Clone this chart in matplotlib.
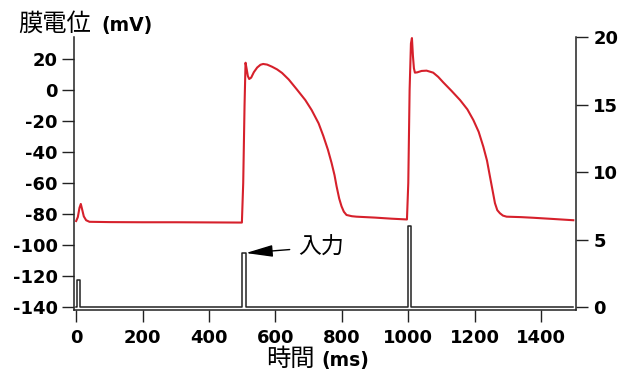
import numpy as np
import matplotlib
matplotlib.use("Agg")
import matplotlib.pyplot as plt

# Membrane potential trace (ms, mV)
time_ms = [0, 5, 10, 14, 18, 23, 30, 40, 100, 200, 300, 400, 499,
           503, 507, 510, 513, 517, 521, 527, 535, 545, 555, 563, 575, 590,
           605, 620, 640, 664, 690, 709, 730, 744, 758, 769, 778, 784, 792, 799,
           806, 814, 830, 844, 900, 950, 996,
           1000, 1004, 1008, 1011, 1014, 1017, 1020, 1027, 1040, 1055, 1075,
           1090, 1105, 1130, 1156, 1178, 1196, 1212, 1226, 1237, 1246, 1254, 1261,
           1268, 1276, 1285, 1296, 1340, 1376, 1430, 1497]
potential_mv = [-84.5, -82, -76, -73.5, -77, -81.5, -84, -85, -85.2, -85.3, -85.3, -85.4, -85.5,
                -60, -10, 17.6, 14, 9, 7.1, 8, 11.5, 14.5, 16.3, 16.8, 16.4, 15,
                13.3, 11, 6.8, 0.5, -6.5, -12.9, -21.5, -29.5, -38.5, -47, -55, -62, -70, -75,
                -78.5, -80.6, -81.4, -81.7, -82.3, -83, -83.5,
                -60, 0, 30, 33.5, 22, 14, 11.2, 11.4, 12.3, 12.5, 11.2,
                8.5, 5, -0.5, -6.5, -12.5, -19.4, -27, -36.6, -45.5, -55.9, -65, -73,
                -77.5, -79.5, -81, -81.7, -82, -82.4, -83.1, -84]

# Stimulus pulses: onset (ms), duration (ms), amplitude
pulse_onsets = [2, 500, 998]
pulse_durations = [10, 10, 10]
pulse_amplitudes = [2, 4, 6]
stim_end = 1497

left_ticks = [20, 0, -20, -40, -60, -80, -100, -120, -140]
right_ticks = [0, 5, 10, 15, 20]
x_ticks = [0, 200, 400, 600, 800, 1000, 1200, 1400]

# Build the stimulus step trace from the pulse table
stim_t, stim_v = [0], [0]
for on, dur, amp in zip(pulse_onsets, pulse_durations, pulse_amplitudes):
    stim_t += [on, on, on + dur, on + dur]
    stim_v += [0, amp, amp, 0]
stim_t.append(stim_end)
stim_v.append(0)

W, H = 634, 373
fig = plt.figure(figsize=(W / 100, H / 100), dpi=100)
ax = fig.add_axes([73.5 / W, 1 - 310 / H, (576 - 73.5) / W, (310 - 37) / H])
ax2 = ax.twinx()

red = "#d6202b"
ink = "#222222"
tick_font = dict(family="DejaVu Sans", weight="bold", size=13)

ax.plot(time_ms, potential_mv, color=red, lw=1.5, zorder=3, solid_joinstyle="round")
ax2.plot(stim_t, stim_v, color=ink, lw=1.1, zorder=3)

ax.set_xlim(-8, 1505)
ax.set_ylim(-141.9, 34.2)
ax2.set_ylim(-0.22, 20.0)

for a in (ax, ax2):
    a.spines["top"].set_visible(False)
    for s in a.spines.values():
        s.set_color(ink)
        s.set_linewidth(1.1)
ax.spines["right"].set_visible(False)
ax2.spines["left"].set_visible(False)
ax2.spines["bottom"].set_visible(False)

ax.set_xticks(x_ticks)
ax.set_xticklabels([str(v) for v in x_ticks], fontdict=tick_font)
ax.set_yticks(left_ticks)
ax.set_yticklabels([str(v) for v in left_ticks], fontdict=tick_font)
ax2.set_yticks(right_ticks)
ax2.set_yticklabels([str(v) for v in right_ticks], fontdict=tick_font)

ax.tick_params(axis="x", length=8.5, width=1.0, color=ink, pad=5, labelcolor="black")
ax.tick_params(axis="y", length=8.5, width=1.0, color=ink, pad=3, labelcolor="black")
ax2.tick_params(axis="y", length=8.5, width=1.0, color=ink, pad=4, labelcolor="black")

cjk = "Noto Sans CJK JP"
lat = dict(family="DejaVu Sans", weight="bold", size=13.5)

# Axis titles: Japanese text in regular weight, units in bold
fig.text(18 / W, 1 - 31 / H, "膜電位", family=cjk, size=17.5, va="baseline", ha="left")
fig.text(101 / W, 1 - 31 / H, "(mV)", va="baseline", ha="left", **lat)
fig.text(266 / W, 1 - 366 / H, "時間", family=cjk, size=17.5, va="baseline", ha="left")
fig.text(321 / W, 1 - 366 / H, "(ms)", va="baseline", ha="left", **lat)

# Label pointing at the second stimulus pulse
ax2.annotate("入力", xy=(pulse_onsets[1] + pulse_durations[1] + 1, pulse_amplitudes[1]),
             xytext=(668, 4.44), family=cjk, size=16.5, va="center", ha="left",
             arrowprops=dict(arrowstyle="-|>,head_length=1.0,head_width=0.22",
                             color="black", lw=1.0, shrinkA=4, shrinkB=0))

fig.savefig("out.png", dpi=100)
